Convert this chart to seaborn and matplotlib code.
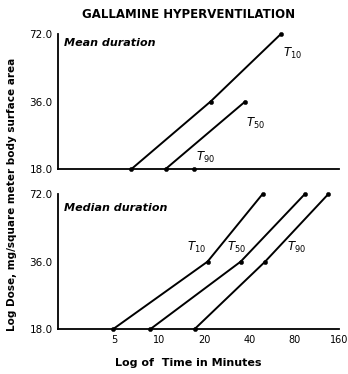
import numpy as np
import pandas as pd
import matplotlib
matplotlib.use("Agg")
import matplotlib.pyplot as plt
import seaborn as sns

sns.set_style("white")
plt.rcParams['font.family'] = ['DejaVu Sans']
plt.rcParams['text.color'] = 'black'
plt.rcParams['xtick.color'] = 'black'
plt.rcParams['ytick.color'] = 'black'

DOSES = [18.0, 36.0, 72.0]
X_TICKS = [5, 10, 20, 40, 80, 160]

# ---- Mean duration (minutes) ----
mean_t10 = [6.5, 22.0, 65.0]
mean_t50 = [11.0, 37.5]
mean_t90 = [17.0]

# ---- Median duration (minutes) ----
med_t10 = [4.9, 21.0, 49.0]
med_t50 = [8.7, 35.0, 94.0]
med_t90 = [17.2, 51.0, 135.0]

fig = plt.figure(figsize=(3.48, 3.74), dpi=100)
ax1 = fig.add_axes([0.167, 0.548, 0.808, 0.361])
ax2 = fig.add_axes([0.167, 0.120, 0.808, 0.361])

def serie(ax, tiempos, dosis):
    df = pd.DataFrame({"t": tiempos, "d": dosis})
    if len(df) > 1:
        sns.lineplot(data=df, x="t", y="d", color="black", lw=1.4, ax=ax)
    sns.scatterplot(data=df, x="t", y="d", color="black", s=10,
                    edgecolor="black", zorder=3, ax=ax, clip_on=False)

serie(ax1, mean_t10, DOSES[:3])
serie(ax1, mean_t50, DOSES[:2])
serie(ax1, mean_t90, DOSES[:1])
serie(ax2, med_t10, DOSES)
serie(ax2, med_t50, DOSES)
serie(ax2, med_t90, DOSES)

for ax in (ax1, ax2):
    ax.set_xscale("log")
    ax.set_yscale("log")
    ax.set_xlim(2.1, 160)
    ax.set_ylim(18, 72)
    ax.set_yticks(DOSES)
    ax.set_yticklabels([f"{d:.1f}" for d in DOSES], fontsize=7.5)
    ax.minorticks_off()
    ax.set_xticks(X_TICKS)
    ax.set_xlabel("")
    ax.set_ylabel("")
    sns.despine(ax=ax)
    for s in ("left", "bottom"):
        ax.spines[s].set_linewidth(1.3)
        ax.spines[s].set_color("black")
    ax.tick_params(axis="y", length=3, width=1, direction="out", pad=1)
    ax.tick_params(axis="x", length=3, width=1, direction="inout", pad=3)

ax1.set_xticklabels([])
ax2.set_xticklabels([str(x) for x in X_TICKS], fontsize=7)

tkw = dict(fontsize=8.5)
ax1.text(0.02, 0.93, "Mean duration", transform=ax1.transAxes, fontsize=8,
         style="italic", fontweight="bold", va="center")
ax2.text(0.02, 0.90, "Median duration", transform=ax2.transAxes, fontsize=8,
         style="italic", fontweight="bold", va="center")

ax1.text(67, 64, r"$T_{10}$", ha="left", va="top", **tkw)
ax1.text(38, 31, r"$T_{50}$", ha="left", va="top", **tkw)
ax1.text(17.5, 18.7, r"$T_{90}$", ha="left", va="bottom", **tkw)

ax2.text(20.5, 38.5, r"$T_{10}$", ha="right", va="bottom", **tkw)
ax2.text(38, 38.5, r"$T_{50}$", ha="right", va="bottom", **tkw)
ax2.text(71, 38.5, r"$T_{90}$", ha="left", va="bottom", **tkw)

fig.text(0.543, 0.962, "GALLAMINE HYPERVENTILATION", ha="center", va="center",
         fontsize=8.5, fontweight="bold")
fig.text(0.542, 0.030, "Log of  Time in Minutes", ha="center", va="center",
         fontsize=8, fontweight="bold")
fig.text(0.035, 0.48, "Log Dose, mg/square meter body surface area", rotation=90,
         ha="center", va="center", fontsize=7.5, fontweight="bold")

fig.savefig("out.png", dpi=100)
